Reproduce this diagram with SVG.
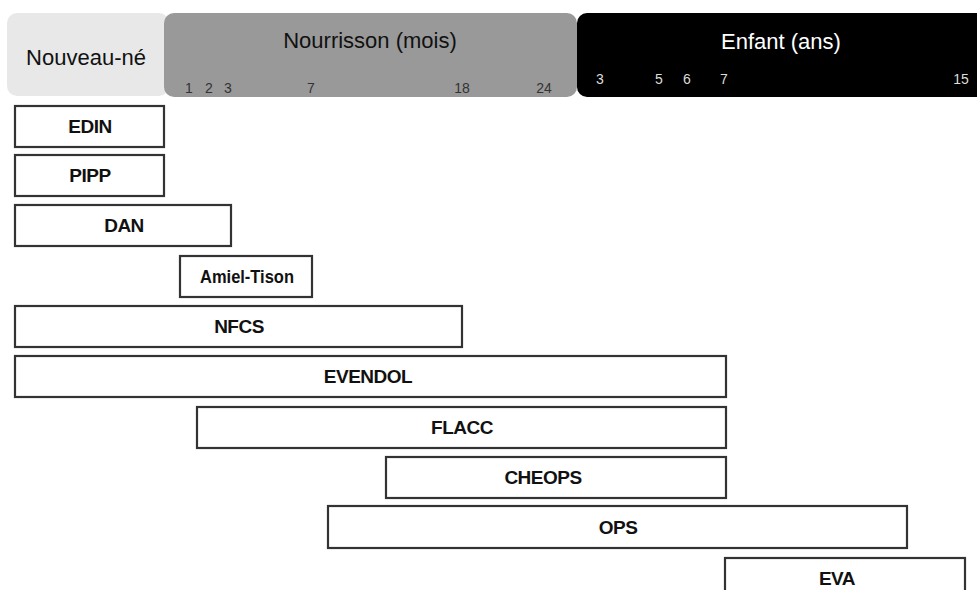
<svg xmlns="http://www.w3.org/2000/svg" width="977" height="590" viewBox="0 0 977 590">
<style>
.hdr{font-family:"Liberation Sans",Arial,sans-serif;font-size:22px;text-anchor:middle}
.tk{font-family:"Liberation Sans",Arial,sans-serif;font-size:14px;text-anchor:middle}
.box{fill:#fff;stroke:#333;stroke-width:2.2}
.lbl{font-family:"Liberation Sans",Arial,sans-serif;font-size:19px;font-weight:bold;text-anchor:middle;fill:#111;letter-spacing:-0.5px}
</style>
<rect width="977" height="590" fill="#fff"/>
<g id="header-nouveau-ne">
<rect x="7" y="13" width="162" height="83" rx="10" fill="#e8e8e8"/>
<text class="hdr" x="86" y="65" fill="#111">Nouveau-né</text>
</g>
<g id="header-nourrisson">
<rect x="164" y="13" width="413" height="84" rx="10" fill="#999"/>
<text class="hdr" x="370" y="48" fill="#111">Nourrisson (mois)</text>
<g class="tk" fill="#333">
<text x="189" y="93">1</text><text x="209" y="93">2</text><text x="228" y="93">3</text>
<text x="311" y="93">7</text><text x="462" y="93">18</text><text x="544" y="93">24</text>
</g>
</g>
<g id="header-enfant">
<rect x="577" y="13" width="420" height="84" rx="10" fill="#000"/>
<text class="hdr" x="781" y="49" fill="#fff">Enfant (ans)</text>
<g class="tk" fill="#ddd">
<text x="600" y="84">3</text><text x="659" y="84">5</text><text x="687" y="84">6</text>
<text x="724" y="84">7</text><text x="961" y="84">15</text>
</g>
</g>
<g id="edin"><rect class="box" x="15" y="106" width="149" height="41"/><text class="lbl" x="90" y="133">EDIN</text></g>
<g id="pipp"><rect class="box" x="15" y="155" width="149" height="41"/><text class="lbl" x="90" y="182">PIPP</text></g>
<g id="dan"><rect class="box" x="15" y="205" width="216" height="41"/><text class="lbl" x="124" y="232">DAN</text></g>
<g id="amiel-tison"><rect class="box" x="180" y="256" width="132" height="41"/><text class="lbl" x="247" y="283" textLength="94" lengthAdjust="spacingAndGlyphs" style="letter-spacing:0">Amiel-Tison</text></g>
<g id="nfcs"><rect class="box" x="15" y="306" width="447" height="41"/><text class="lbl" x="239" y="333">NFCS</text></g>
<g id="evendol"><rect class="box" x="15" y="356" width="711" height="41"/><text class="lbl" x="368" y="383">EVENDOL</text></g>
<g id="flacc"><rect class="box" x="197" y="407" width="529" height="41"/><text class="lbl" x="462" y="434">FLACC</text></g>
<g id="cheops"><rect class="box" x="386" y="457" width="340" height="41"/><text class="lbl" x="543" y="484">CHEOPS</text></g>
<g id="ops"><rect class="box" x="328" y="506" width="579" height="42"/><text class="lbl" x="618" y="534">OPS</text></g>
<g id="eva"><rect class="box" x="725" y="558" width="240" height="41"/><text class="lbl" x="837" y="585">EVA</text></g>
<g id="connectors"/>
</svg>
